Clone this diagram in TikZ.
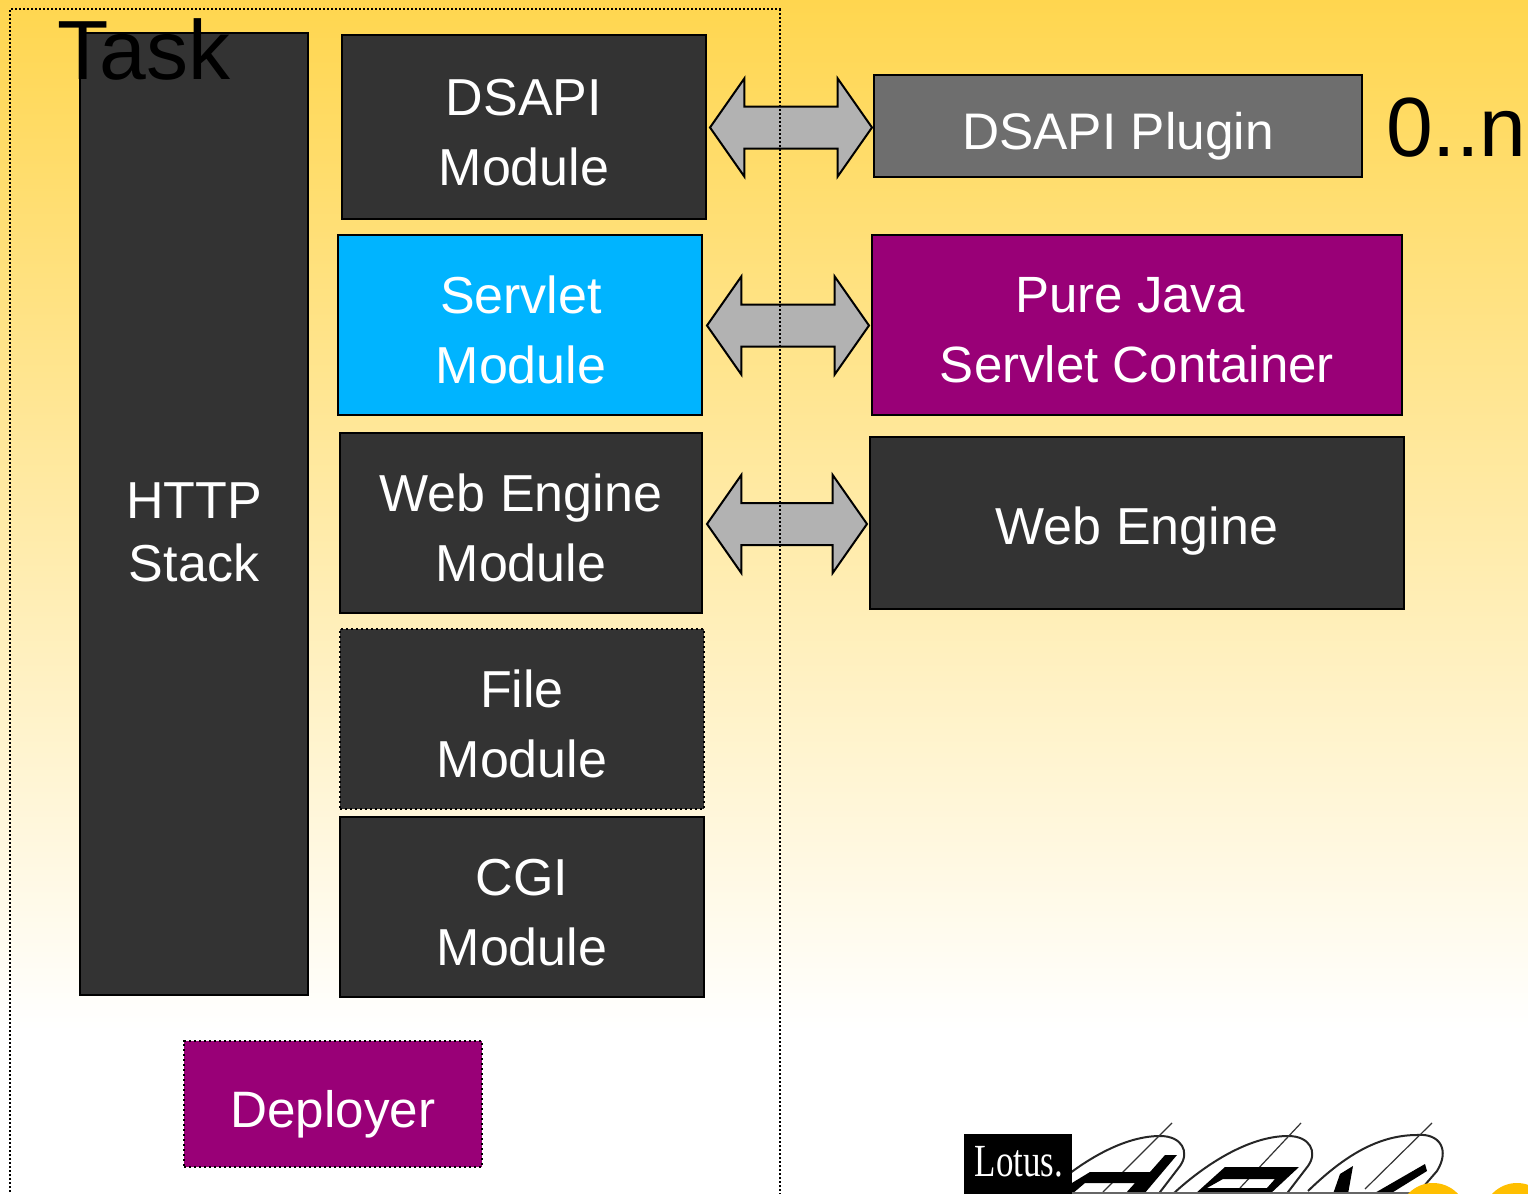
\documentclass[tikz,border=0pt]{standalone}
\usepackage{fontspec}
\setmainfont{Liberation Sans}
\newfontfamily\logofont{Liberation Serif}
\usetikzlibrary{%
  shapes.arrows,%
  positioning%
}
\definecolor{topyellow}{HTML}{FFD64F}
\definecolor{darkbox}{HTML}{333333}
\definecolor{plugbox}{HTML}{6E6E6E}
\definecolor{purplebox}{HTML}{990077}
\definecolor{bluebox}{HTML}{00B4FF}
\definecolor{arrowgray}{HTML}{B2B2B2}
\definecolor{dotyellow}{HTML}{FFBF00}
% pushes the text of a box down: a taller first line
\newcommand{\lowered}[1]{\rule{0pt}{#1}}

\begin{document}
\begin{tikzpicture}[
  x=0.5pt, y=-0.5pt, line width=1pt, draw=black,
  module/.style={rectangle, draw=black, fill=darkbox, text=white, align=center, inner sep=0pt, font=\fontsize{26}{35}\selectfont},
  dotborder/.style={dash pattern=on 1.2pt off 1.3pt},
  framedots/.style={line width=0.8pt, dash pattern=on 1pt off 1pt},
  biarrow/.style={double arrow, draw=black, fill=arrowgray, inner xsep=0pt, inner ysep=10pt, minimum height=81pt, double arrow head extend=14pt, double arrow tip angle=110, double arrow head indent=0pt},
  logoline/.style={line width=1pt, black!85}
]
\useasboundingbox (0,0) rectangle (1528,1194);
\clip (0,0) rectangle (1528,1194);

\fill[white] (0,0) rectangle (1528,1194);
\shade[top color=topyellow, bottom color=white] (0,0) rectangle (1528,1030);

% logo
\foreach \x in {0,128} {
  \draw[logoline] (1045+\x,1194) .. controls (1075+\x,1166) and (1120+\x,1136) .. (1160+\x,1136) .. controls (1182+\x,1136) and (1190+\x,1152) .. (1180+\x,1166) -- (1157+\x,1196);
}
\draw[logoline] (1308,1191) .. controls (1340,1160) and (1375,1135) .. (1417,1135) .. controls (1440,1133) and (1450,1150) .. (1437,1171) -- (1424,1186);
\draw[line width=0.6pt, black!80] (1172,1123) -- (1103,1192);
\draw[line width=0.6pt, black!80] (1301,1123) -- (1240,1188);
\draw[line width=0.6pt, black!80] (1432,1123) -- (1365,1189);
\fill[black] (1067,1186) -- (1090,1172) -- (1150,1172) -- (1165,1155) -- (1177,1155) -- (1144,1194) -- (1125,1194) -- (1135,1183) -- (1085,1183) -- (1072,1194) -- (1060,1194) -- cycle;
\fill[black,even odd rule] (1225,1167) -- (1299,1167) -- (1270,1194) -- (1195,1194) -- cycle (1207,1188) -- (1223,1179) -- (1275,1179) -- (1267,1188) -- cycle;
\fill[black] (1353,1166) -- (1348,1194) -- (1333,1194) -- (1340,1174) -- cycle;
\fill[black] (1425,1164) -- (1427,1171) -- (1390,1194) -- (1373,1194) -- cycle;
\draw[line width=1pt, black!60] (1040,1193) -- (1420,1193);
\node[rectangle, fill=black, text=white, inner sep=0pt, minimum width=54pt, minimum height=30pt, font=\logofont\fontsize{23}{23}\selectfont] (lotus) at (1018,1164) {\hspace*{1pt}\raisebox{3pt}{\scalebox{0.76}[1]{Lotus.}}};
\fill[dotyellow] (1433,1217) circle (34);
\fill[dotyellow] (1517,1217) circle (34);

% modules
\node[module, minimum width=114pt, minimum height=481pt] (http) at (194,514) {\lowered{36pt}HTTP\\[-3.5pt]Stack};
\node[module, minimum width=182pt, minimum height=92pt] (dsapimod) at (524,127) {\lowered{24pt}DSAPI\\Module};
\node[module, fill=bluebox, minimum width=182pt, minimum height=90pt] (servletmod) at (520,325) {\lowered{24pt}\hspace*{1pt}Servlet\\\hspace*{1pt}Module};
\node[module, minimum width=181pt, minimum height=90pt] (webmod) at (521,523) {\lowered{24pt}Web Engine\\Module};
\node[module, dotborder, minimum width=182pt, minimum height=90pt] (filemod) at (522,719) {\lowered{24pt}File\\Module};
\node[module, minimum width=182pt, minimum height=90pt] (cgimod) at (522,907) {\lowered{24pt}CGI\\Module};
\node[module, dotborder, fill=purplebox, minimum width=149pt, minimum height=63pt, font=\fontsize{25.6}{35}\selectfont] (deployer) at (333,1104) {\lowered{29pt}Deployer};

\node[module, fill=plugbox, minimum width=244pt, minimum height=51pt, font=\fontsize{25.7}{35}\selectfont] (plugin) at (1118,126) {\lowered{29pt}DSAPI Plugin};
\node[module, fill=purplebox, minimum width=265pt, minimum height=90pt, font=\fontsize{25.5}{35}\selectfont] (java) at (1137,325) {\lowered{23pt}Pure Java\hspace*{7pt}\\Servlet Container};
\node[module, minimum width=267pt, minimum height=86pt] (engine) at (1137,523) {\lowered{27pt}Web Engine};

% arrows
\node[biarrow] (arrowdsapi) at (791,127.5) {};
\node[biarrow] (arrowservlet) at (788,325.5) {};
\node[biarrow, minimum height=80pt] (arrowweb) at (787,524) {};

\draw[framedots] (10,1200) -- (10,9) -- (781,9);
\draw[framedots] (780,9) -- (780,1200);

\node[inner sep=0pt, font=\fontsize{42}{42}\selectfont] (task) at (144,49) {Task};
\node[inner sep=0pt, font=\fontsize{42}{42}\selectfont, anchor=west] (count) at (1385,128) {0..n};
\end{tikzpicture}
\end{document}
